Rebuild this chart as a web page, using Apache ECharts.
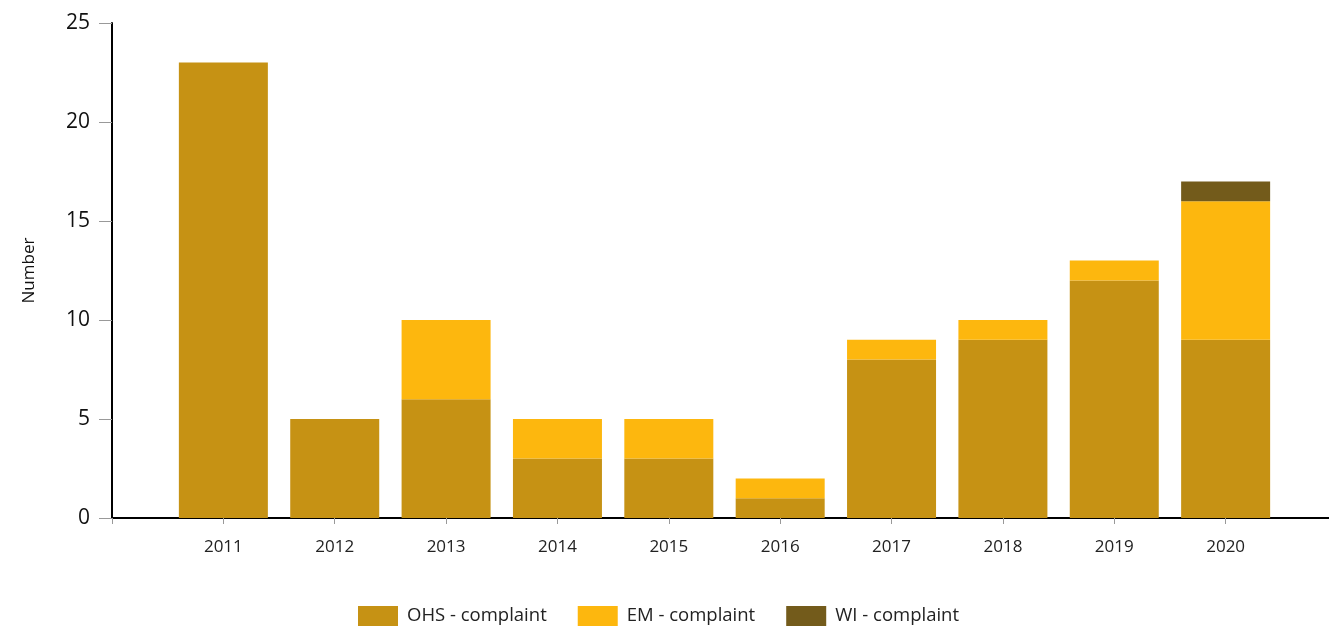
<!DOCTYPE html>
<html>
<head>
<meta charset="utf-8">
<script src="https://cdn.jsdelivr.net/npm/echarts@6/dist/echarts.min.js"></script>
<style>
  html, body { margin: 0; padding: 0; background: #fff; }
  #main { width: 1329px; height: 630px; }
</style>
</head>
<body>
<div id="main"></div>
<script>
// years (blank slots at each end so the axis starts one slot before 2011)
var years = ['', '2011', '2012', '2013', '2014', '2015', '2016', '2017', '2018', '2019', '2020', ''];
var ohs = ['-', 23, 5, 6, 3, 3, 1, 8, 9, 12, 9, '-'];
var em  = ['-', 0, 0, 4, 2, 2, 1, 1, 1, 1, 7, '-'];
var wi  = ['-', 0, 0, 0, 0, 0, 0, 0, 0, 0, 1, '-'];
var yTicks = [0, 5, 10, 15, 20, 25];

var myChart = echarts.init(document.getElementById('main'));
var font = '"Open Sans", "Noto Sans", sans-serif';

myChart.setOption({
    animation: false,
    textStyle: { fontFamily: font },
    grid: { left: 112, right: -8, top: 23, bottom: 112, containLabel: false, outerBoundsMode: 'none' },
    legend: {
        top: 601,
        left: 353,
        itemWidth: 40,
        itemHeight: 20,
        itemGap: 31,
        icon: 'rect',
        textStyle: { fontSize: 18.5, color: '#222', fontFamily: font, padding: [0, 0, 0, 4] },
        data: ['OHS - complaint', 'EM - complaint', 'WI - complaint']
    },
    xAxis: {
        type: 'category',
        data: years,
        boundaryGap: false,
        axisLine: { lineStyle: { color: '#000', width: 2 } },
        axisTick: { length: 6, lineStyle: { color: '#999' } },
        axisLabel: { margin: 21, fontSize: 17, color: '#222', fontFamily: font },
        splitLine: { show: false }
    },
    yAxis: {
        type: 'value',
        min: yTicks[0],
        max: yTicks[yTicks.length - 1],
        interval: 5,
        name: 'Number',
        nameLocation: 'middle',
        nameGap: 74,
        nameTextStyle: { fontSize: 17, color: '#111', fontFamily: font },
        axisLine: { show: true, lineStyle: { color: '#000', width: 2 } },
        axisTick: { show: true, length: 13, lineStyle: { color: '#999' } },
        axisLabel: { margin: 22, fontSize: 21, color: '#111', fontFamily: font },
        splitLine: { show: false }
    },
    series: [
        {
            name: 'OHS - complaint', type: 'bar', stack: 'total', data: ohs,
            barWidth: 89, itemStyle: { color: '#C69214' }
        },
        {
            name: 'EM - complaint', type: 'bar', stack: 'total', data: em,
            barWidth: 89, itemStyle: { color: '#FDB70E' }
        },
        {
            name: 'WI - complaint', type: 'bar', stack: 'total', data: wi,
            barWidth: 89, itemStyle: { color: '#735B1B' }
        }
    ]
});
</script>
</body>
</html>
